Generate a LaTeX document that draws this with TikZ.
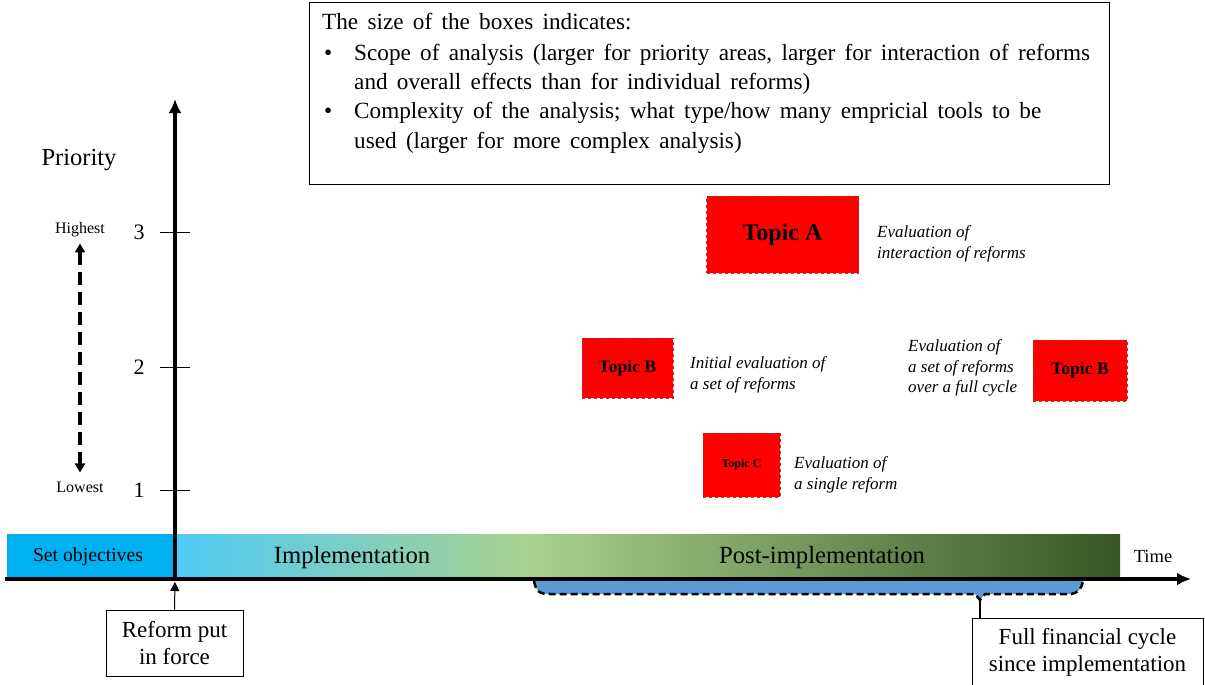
\documentclass[tikz,border=0pt]{standalone}
\usepackage{fontspec}
\setmainfont{Liberation Serif}
\usetikzlibrary{arrows.meta}
\definecolor{setblue}{HTML}{00B0F0}
\definecolor{implA}{HTML}{4FCBF7}
\definecolor{implB}{HTML}{A9D18E}
\definecolor{postB}{HTML}{375623}
\definecolor{bracefill}{HTML}{5B9BD5}
\definecolor{topicred}{HTML}{FF0000}
\definecolor{topicedge}{HTML}{B03030}
\newcommand{\legfont}{\fontsize{23.2}{28}\selectfont\spaceskip 9.3pt\relax}
\begin{document}
\begin{tikzpicture}[x=1pt,y=-1pt,
  axisline/.style={line width=4pt,-{Latex[length=14pt,width=13pt]}},
  tickline/.style={line width=1pt},
  ticklabel/.style={font=\fontsize{22}{26}\selectfont},
  topic/.style={draw=topicedge,dashed,line width=0.6pt,fill=topicred,font=\bfseries,inner sep=0pt},
  evaltext/.style={font=\itshape\fontsize{17}{20.5}\selectfont,align=left,anchor=west,inner sep=0pt},
  labelbox/.style={draw=black,line width=1pt,fill=white,align=center,font=\fontsize{23}{27}\selectfont,inner sep=0pt},
  legendtext/.style={anchor=base west,inner sep=0pt,font=\legfont},
  bandtext/.style={inner sep=0pt}
]
\useasboundingbox (0,0) rectangle (1205,685);

% legend box
\node[draw,line width=1pt,minimum width=800pt,minimum height=182pt,anchor=north west,inner sep=0pt] (legend) at (309,2) {};
\node[legendtext] (l1) at (322,30) {The size of the boxes indicates:};
\node[legendtext] (b1) at (324,60) {•};
\node[legendtext] (l2) at (354,60) {Scope of analysis (larger for priority areas, larger for interaction of reforms};
\node[legendtext] (l3) at (354,89) {and overall effects than for individual reforms)};
\node[legendtext] (b2) at (324,118) {•};
\node[legendtext] (l4) at (354,118) {Complexity of the analysis; what type/how many empricial tools to be};
\node[legendtext] (l5) at (354,148) {used (larger for more complex analysis)};

% bands
\fill[setblue] (7,534) rectangle (175,578);
\shade[left color=implA,right color=implB] (175,534) rectangle (530,578);
\shade[left color=implB,right color=postB] (530,534) rectangle (1120,578);
\node[bandtext,font=\fontsize{19.7}{23}\selectfont] (setobj) at (88,557) {Set objectives};
\node[bandtext,font=\fontsize{24.7}{29}\selectfont] (impl) at (352,558) {Implementation};
\node[bandtext,font=\fontsize{24.7}{29}\selectfont] (post) at (822,558) {Post-implementation};
\node[bandtext,font=\fontsize{18.5}{22}\selectfont] (time) at (1153,556) {Time};

% brace
\coordinate (bracetip) at (980,600);
\fill[bracefill] (534,580) .. controls (536,592) and (540,594) .. (550,594) -- (975,594) -- (bracetip) -- (985,594) -- (1068,594) .. controls (1078,594) and (1081,590) .. (1083,580) -- cycle;
\draw[line width=2.5pt,dash pattern=on 7pt off 4pt] (534,581) .. controls (536,592) and (540,594) .. (550,594) -- (975,594) -- (bracetip) -- (985,594) -- (1068,594) .. controls (1078,594) and (1081,590) .. (1083,581);

% axes
\coordinate (origin) at (175,580);
\coordinate (ytop) at (175,99);
\coordinate (xstart) at (5,579);
\coordinate (xend) at (1191,579);
\draw[axisline] (origin) -- (ytop);
\draw[axisline] (xstart) -- (xend);

% ticks
\foreach \y/\lab/\nm in {232/3/t3,367/2/t2,490/1/t1}{
  \draw[tickline] (160,\y) -- (190,\y);
  \node[ticklabel] (\nm) at (139,\y) {\lab};
}
\node[font=\fontsize{24.5}{29}\selectfont] (priority) at (79,160) {Priority};
\node[font=\fontsize{16}{19}\selectfont,inner sep=0pt] (highest) at (80,230) {Highest};
\node[font=\fontsize{16}{19}\selectfont,inner sep=0pt] (lowest) at (80,487) {Lowest};
\draw[line width=3.5pt,dash pattern=on 13pt off 7pt,{Triangle[length=9pt,width=10pt]}-{Triangle[length=9pt,width=10pt]}] ([yshift=-6pt]highest.south) -- ([yshift=9pt]lowest.north);

% topics
\node[topic,minimum width=152pt,minimum height=77pt,font=\bfseries\fontsize{24}{28}\selectfont] (topA) at (782.5,234.5) {\raisebox{-3pt}{Topic A}};
\node[topic,minimum width=91pt,minimum height=60pt,font=\bfseries\fontsize{17.6}{21}\selectfont] (topB1) at (627.5,368) {Topic B};
\node[topic,minimum width=94pt,minimum height=61pt,font=\bfseries\fontsize{17.6}{21}\selectfont] (topB2) at (1080,370.5) {Topic B};
\node[topic,minimum width=77pt,minimum height=64pt,font=\bfseries\fontsize{12}{14}\selectfont] (topC) at (741.5,465) {Topic C};

\node[evaltext] (evA) at (877,244) {Evaluation of\\interaction of reforms};
\node[evaltext] (evB1) at (690,375) {Initial evaluation of\\a set of reforms};
\node[evaltext] (evB2) at (908,368) {Evaluation of\\a set of reforms\\over a full cycle};
\node[evaltext] (evC) at (794,475) {Evaluation of\\a single reform};

% bottom boxes
\node[labelbox,minimum width=137pt,minimum height=66pt] (reform) at (174.5,643) {Reform put\\in force};
\coordinate (reformpt) at (175,582);
\draw[line width=1pt,-{Triangle[length=9pt,width=9pt]}] (reform.north) -- (reformpt);
\node[labelbox,minimum width=231pt,minimum height=68pt] (fullcycle) at (1087.5,652) {Full financial cycle\\since implementation};
\draw[line width=2.5pt] (bracetip) -- (bracetip |- fullcycle.north);
\end{tikzpicture}
\end{document}
